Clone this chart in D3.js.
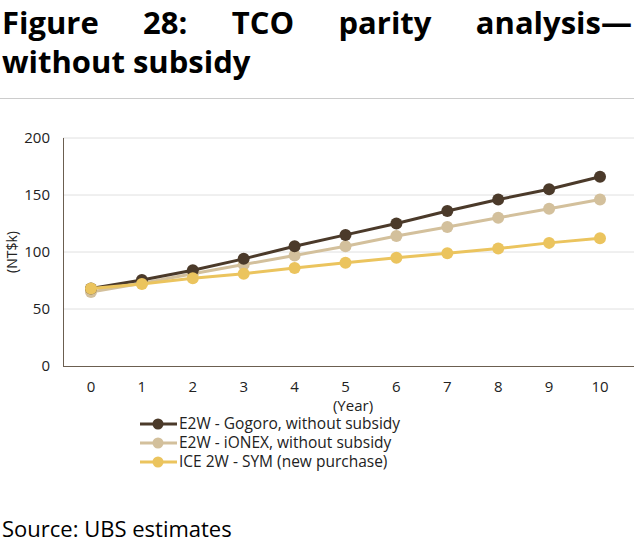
<!DOCTYPE html>
<html><head><meta charset="utf-8">
<script src="https://cdn.jsdelivr.net/npm/d3@7"></script>
<style>
body{margin:0;background:#fff;font-family:"Open Sans",sans-serif;}
.t{position:absolute;left:2px;width:630px;font-weight:bold;font-size:31px;line-height:36px;color:#000;}
#t1{top:4px;text-align:justify;text-align-last:justify;}
#t2{top:43px;}
#rule{position:absolute;left:0;top:98px;width:634px;height:1px;background:#ccc;}
#src{position:absolute;left:2px;top:513px;font-size:22px;color:#000;}
svg{position:absolute;left:0;top:0;}
</style></head><body>
<div class="t" id="t1">Figure 28: TCO parity analysis—</div>
<div class="t" id="t2">without subsidy</div>
<div id="rule"></div>
<svg id="chart" width="634" height="548"></svg>
<div id="src">Source: UBS estimates</div>
<script>
const years = [0,1,2,3,4,5,6,7,8,9,10]
const gogoro = [68,75.5,84,94,105,115,125,136,146,155,166]
const ionex = [65,72.6,81,89,97,105,114,122,130,138,146]
const sym = [68,72,77,81,86,90.5,95,99,103,108,112]
const seriesNames = ["E2W - Gogoro, without subsidy","E2W - iONEX, without subsidy","ICE 2W - SYM (new purchase)"]
const colors = ["#4b3a2a","#d3c09c","#ebc45e"]
const yTicks = [0,50,100,150,200]

const svg = d3.select("#chart")
const x = d3.scaleLinear().domain([0,10]).range([91,600])
const y = d3.scaleLinear().domain([0,200]).range([366,138])

svg.selectAll(".grid").data(yTicks.slice(1)).enter().append("line")
  .attr("x1",63).attr("x2",634).attr("y1",d=>y(d)).attr("y2",d=>y(d))
  .attr("stroke","#e0e0e0").attr("stroke-width",1)
svg.append("line").attr("x1",63.5).attr("x2",63.5).attr("y1",138).attr("y2",366).attr("stroke","#6b5e50")
svg.append("line").attr("x1",63).attr("x2",634).attr("y1",366.5).attr("y2",366.5).attr("stroke","#6b5e50")

svg.selectAll(".yt").data(yTicks).enter().append("text")
  .attr("x",50).attr("y",d=>y(d)+5).attr("text-anchor","end")
  .attr("font-size",15).attr("fill","#222").text(d=>d)
svg.selectAll(".xt").data(years).enter().append("text")
  .attr("x",d=>x(d)).attr("y",392).attr("text-anchor","middle")
  .attr("font-size",15).attr("fill","#222").text(d=>d)
svg.append("text").attr("x",353).attr("y",411).attr("text-anchor","middle").attr("font-size",15).attr("fill","#222").text("(Year)")
svg.append("text").attr("transform","translate(17,252) rotate(-90)").attr("text-anchor","middle").attr("font-size",14).attr("fill","#222").text("(NT$k)")

const line = d3.line().x((d,i)=>x(years[i])).y(d=>y(d))
const all = [gogoro,ionex,sym]
;[1,0,2].forEach(k=>{
  svg.append("path").attr("d",line(all[k])).attr("fill","none").attr("stroke",colors[k]).attr("stroke-width",3)
  svg.selectAll(".p"+k).data(all[k]).enter().append("circle")
    .attr("cx",(d,i)=>x(years[i])).attr("cy",d=>y(d)).attr("r",6).attr("fill",colors[k])
})

seriesNames.forEach((n,k)=>{
  const ly = 424 + k*19
  svg.append("line").attr("x1",140).attr("x2",177).attr("y1",ly).attr("y2",ly).attr("stroke",colors[k]).attr("stroke-width",3)
  svg.append("circle").attr("cx",158).attr("cy",ly).attr("r",5.5).attr("fill",colors[k])
  svg.append("text").attr("x",179).attr("y",ly+5).attr("font-size",15.5).attr("fill","#222").text(n)
})
</script>
</body></html>
